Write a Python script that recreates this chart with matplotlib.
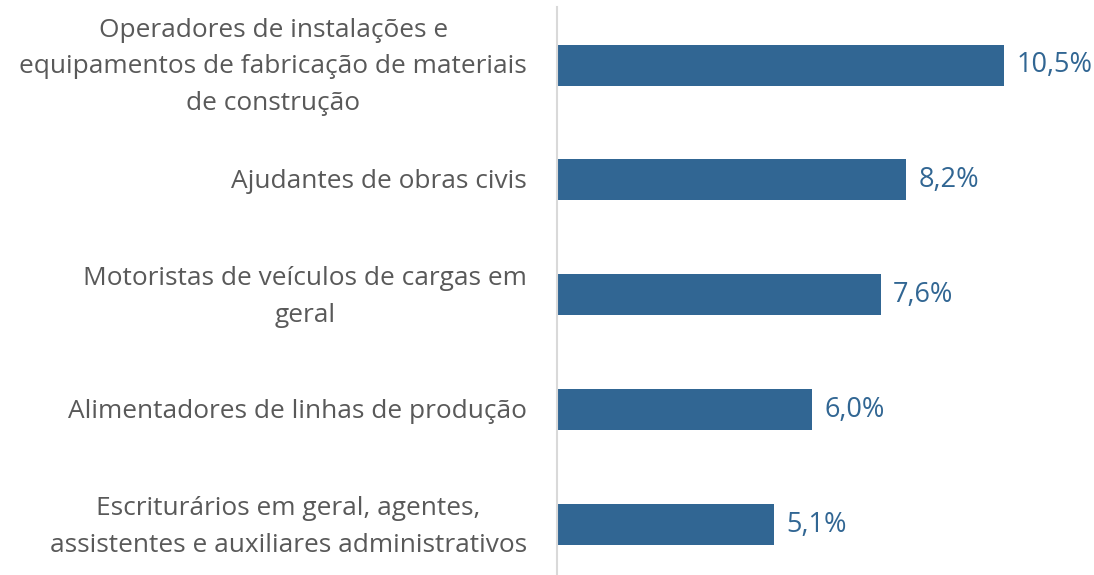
import matplotlib
matplotlib.use("Agg")
import matplotlib.pyplot as plt
import matplotlib.transforms as mtransforms

categories = [
    "Operadores de instalações e\nequipamentos de fabricação de materiais\nde construção",
    "Ajudantes de obras civis",
    "Motoristas de veículos de cargas em\ngeral",
    "Alimentadores de linhas de produção",
    "Escriturários em geral, agentes,\nassistentes e auxiliares administrativos",
]
values = [10.5, 8.2, 7.6, 6.0, 5.1]
value_labels = ["10,5%", "8,2%", "7,6%", "6,0%", "5,1%"]

W, H = 1094, 575
plt.rcParams['font.family'] = ['Open Sans', 'DejaVu Sans']
fig = plt.figure(figsize=(W / 100, H / 100), dpi=100)
left = 557 / W
ax = fig.add_axes([left, 0, 1 - left, 1])

bar_color = "#316693"
text_color = "#595959"
ys = list(range(len(categories)))
ax.barh(ys, values, height=41 / 115, color=bar_color)
ax.set_ylim((575 - 65) / 115, -65 / 115)
ax.set_xlim(0, (W - 557) / ((1004 - 557) / 10.5))

for y, v, lab in zip(ys, values, value_labels):
    ax.annotate(lab, (v, y), xytext=(9, 0), textcoords="offset points",
                va="center", ha="left", color=bar_color, fontsize=19.5)

ax.set_yticks(ys)
ax.set_yticklabels(categories, fontsize=18.9, color=text_color, ha="right",
                   va="center", multialignment="center", linespacing=1.63)
ax.tick_params(axis="y", length=0, pad=30 * 0.72)
shift = mtransforms.ScaledTranslation(0, -2 / 100, fig.dpi_scale_trans)
for lbl in ax.get_yticklabels():
    lbl.set_transform(lbl.get_transform() + shift)

ax.set_xticks([])
for s in ["top", "right", "bottom"]:
    ax.spines[s].set_visible(False)
ax.spines["left"].set_color("#d9d9d9")
ax.spines["left"].set_linewidth(1.5)
ax.spines["left"].set_bounds(-0.5, 4.5)

fig.savefig("out.png", dpi=100)
